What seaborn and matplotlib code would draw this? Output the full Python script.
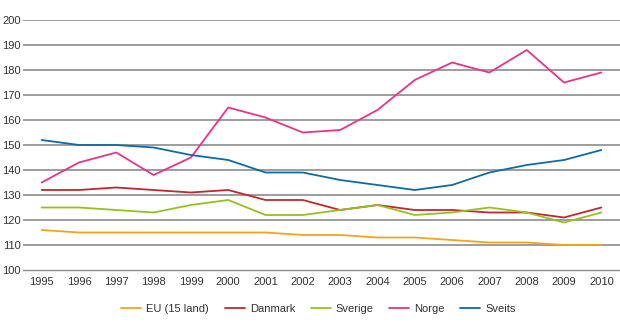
import matplotlib
matplotlib.use("Agg")
import matplotlib.pyplot as plt
import seaborn as sns
import pandas as pd
import numpy as np

years = list(range(1995, 2011))
eu15 = [116, 115, 115, 115, 115, 115, 115, 114, 114, 113, 113, 112, 111, 111, 110, 110]
danmark = [132, 132, 133, 132, 131, 132, 128, 128, 124, 126, 124, 124, 123, 123, 121, 125]
sverige = [125, 125, 124, 123, 126, 128, 122, 122, 124, 126, 122, 123, 125, 123, 119, 123]
norge = [135, 143, 147, 138, 145, 165, 161, 155, 156, 164, 176, 183, 179, 188, 175, 179]
sveits = [152, 150, 150, 149, 146, 144, 139, 139, 136, 134, 132, 134, 139, 142, 144, 148]

series_names = ["EU (15 land)", "Danmark", "Sverige", "Norge", "Sveits"]
series_values = [eu15, danmark, sverige, norge, sveits]
colors = ["#f7a21b", "#c1272d", "#95c11f", "#e7338a", "#0e6ba8"]

df = pd.DataFrame({
    "år": np.tile(years, len(series_names)),
    "verdi": np.concatenate(series_values),
    "land": np.repeat(series_names, len(years)),
})

sns.set_theme(style="white")
plt.rcParams["font.family"] = ["Liberation Sans", "DejaVu Sans"]

fig = plt.figure(figsize=(6.2, 3.28), dpi=100)
ax = fig.add_axes([23 / 620, 1 - 270 / 328, 1 - 23 / 620, 250 / 328])

sns.lineplot(data=df, x="år", y="verdi", hue="land", hue_order=series_names,
             palette=colors, linewidth=1.3, ax=ax, legend=True)

ax.set_xlim(1994.5, 2010.5)
ax.set_ylim(100, 200)
ax.set_yticks(range(100, 201, 10))
ax.set_xticks(years)
ax.set_xticks(np.arange(1994.5, 2011, 1), minor=True)
ax.tick_params(axis="x", which="major", length=0, pad=5, labelsize=8, colors="#333333")
ax.tick_params(axis="x", which="minor", length=4, width=0.8, color="#888888", direction="out")
ax.tick_params(axis="y", length=0, pad=1.5, labelsize=8, colors="#333333")
ax.set_xlabel("")
ax.set_ylabel("")

for y in range(110, 201, 10):
    ax.axhline(y, color="#8c8c8c", linewidth=1.2, zorder=0)

for side in ["top", "right", "left"]:
    ax.spines[side].set_visible(False)
ax.spines["bottom"].set_color("#8c8c8c")
ax.spines["bottom"].set_linewidth(1.0)

leg = ax.legend(loc="upper center", bbox_to_anchor=(0.495, -0.095), ncol=5,
                frameon=False, fontsize=8, handlelength=1.8, columnspacing=1.4,
                handletextpad=0.45)
for t in leg.get_texts():
    t.set_color("#333333")

fig.savefig("out.png", dpi=100)
